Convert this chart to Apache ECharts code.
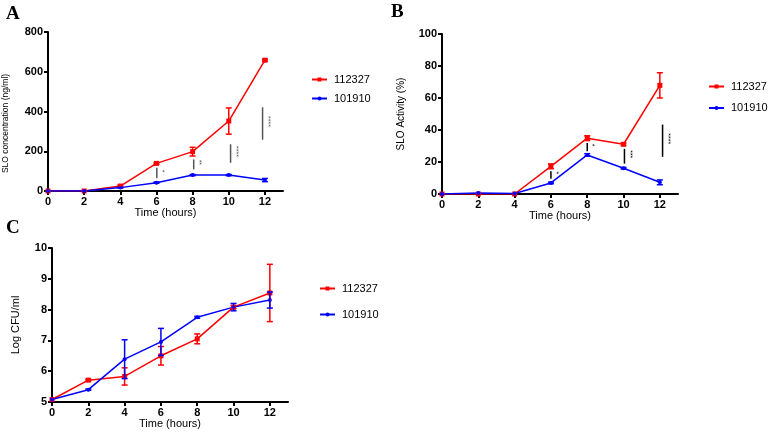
<!DOCTYPE html>
<html>
<head>
<meta charset="utf-8">
<script src="https://cdn.jsdelivr.net/npm/echarts@6/dist/echarts.min.js"></script>
<style>
    html, body {margin: 0; padding: 0; background: #fff;}
    #main {width: 768px; height: 435px;}
</style>
</head>
<body>
<div id="main"></div>
<script>
    // time points (hours)
    var hours = [0, 2, 4, 6, 8, 10, 12];
    var xTicks = [0, 2, 4, 6, 8, 10, 12];
    var strains = ['112327', '101910'];

    // A: SLO concentration (ng/ml)
    var concRed = [0, 0, 25, 139, 198, 352, 658];
    var concRedErr = [0, 0, 3, 4, 22, 66, 5];
    var concBlue = [0, 0, 17, 42, 80, 80, 55];
    var concBlueErr = [0, 0, 2, 3, 3, 3, 8];
    var concSigX = [6.02, 8.06, 10.1, 11.87];
    var concSigLow = [64, 109, 142, 258];
    var concSigHigh = [117, 159, 235, 421];
    var concSigText = ['*', '**', '****', '****'];

    // B: SLO Activity (%)
    var actRed = [0, 0, 0, 17.3, 34.9, 31.1, 67.9];
    var actRedErr = [0, 0, 0, 1.5, 1.5, 0.8, 7.9];
    var actBlue = [0, 0.6, 0.3, 6.9, 24.4, 16.1, 7.3];
    var actBlueErr = [0, 0, 0, 0.5, 0.8, 0.5, 1.5];
    var actSigX = [6.0, 8.0, 10.05, 12.15];
    var actSigLow = [9.6, 26.7, 19, 23.2];
    var actSigHigh = [14.2, 31.9, 28.2, 43.4];
    var actSigText = ['*', '*', '***', '****'];

    // C: Log CFU/ml
    var cfuRed = [5.08, 5.71, 5.83, 6.50, 7.05, 8.08, 8.54];
    var cfuRedErr = [0, 0.03, 0.28, 0.30, 0.16, 0.05, 0.93];
    var cfuBlue = [5.08, 5.40, 6.39, 6.95, 7.75, 8.08, 8.31];
    var cfuBlueErr = [0, 0.02, 0.63, 0.44, 0.03, 0.12, 0.26];

    var FONT = 'Arial, "Liberation Sans", sans-serif';
    var SERIF = '"Liberation Serif", "Times New Roman", serif';
    var RED = '#ff0000';
    var BLUE = '#0000ff';

    var chart = echarts.init(document.getElementById('main'));

    function pairs(xs, ys) {
        return xs.map(function (x, i) {
            return [x, ys[i]];
        });
    }

    function lineSeries(name, gi, ys, color, symbol, size) {
        return {
            name: name,
            type: 'line',
            xAxisIndex: gi,
            yAxisIndex: gi,
            data: pairs(hours, ys),
            symbol: symbol,
            symbolSize: size,
            lineStyle: {color: color, width: 1.5},
            itemStyle: {color: color},
            z: 4,
            animation: false
        };
    }

    function errorSeries(gi, ys, errs, color) {
        var data = [];
        hours.forEach(function (x, i) {
            if (errs[i] > 0) data.push([x, ys[i] - errs[i], ys[i] + errs[i]]);
        });
        return {
            name: 'err',
            type: 'custom',
            xAxisIndex: gi,
            yAxisIndex: gi,
            data: data,
            z: 5,
            animation: false,
            renderItem: function (params, api) {
                var top = api.coord([api.value(0), api.value(2)]);
                var bot = api.coord([api.value(0), api.value(1)]);
                var w = 3;
                var st = {stroke: color, lineWidth: 1.5};
                return {
                    type: 'group',
                    children: [
                        {type: 'line', shape: {x1: top[0], y1: top[1], x2: bot[0], y2: bot[1]}, style: st},
                        {type: 'line', shape: {x1: top[0] - w, y1: top[1], x2: top[0] + w, y2: top[1]}, style: st},
                        {type: 'line', shape: {x1: bot[0] - w, y1: bot[1], x2: bot[0] + w, y2: bot[1]}, style: st}
                    ]
                };
            }
        };
    }

    function sigSeries(gi, xs, lows, highs, texts, color) {
        return {
            name: 'sig',
            type: 'custom',
            xAxisIndex: gi,
            yAxisIndex: gi,
            data: xs.map(function (x, i) {
                return [x, lows[i], highs[i]];
            }),
            z: 3,
            animation: false,
            renderItem: function (params, api) {
                var top = api.coord([api.value(0), api.value(2)]);
                var bot = api.coord([api.value(0), api.value(1)]);
                return {
                    type: 'group',
                    children: [
                        {type: 'line', shape: {x1: top[0], y1: top[1], x2: bot[0], y2: bot[1]},
                            style: {stroke: color, lineWidth: 1.5}},
                        {type: 'text', x: top[0] + 5, y: (top[1] + bot[1]) / 2 - 2, rotation: -Math.PI / 2,
                            style: {text: texts[params.dataIndex], fontSize: 7, fill: color,
                                align: 'center', verticalAlign: 'middle', fontFamily: FONT}}
                    ]
                };
            }
        };
    }

    function xAxisFor(gi) {
        return {
            type: 'value',
            gridIndex: gi,
            min: 0,
            max: 13,
            interval: 2,
            name: 'Time (hours)',
            nameLocation: 'middle',
            nameGap: 16,
            nameTextStyle: {fontSize: 11, color: '#000', fontFamily: FONT},
            axisLine: {lineStyle: {color: '#000', width: 2}},
            axisTick: {length: 4, lineStyle: {color: '#000', width: 2}, customValues: xTicks},
            axisLabel: {customValues: xTicks, fontSize: 11, fontWeight: 'bold', color: '#000', margin: 5, fontFamily: FONT},
            splitLine: {show: false}
        };
    }

    function yAxisFor(gi, min, max, interval, name, gap, nameStyle) {
        return {
            type: 'value',
            gridIndex: gi,
            min: min,
            max: max,
            interval: interval,
            name: name,
            nameLocation: 'middle',
            nameGap: gap,
            nameTextStyle: nameStyle,
            axisLine: {show: true, lineStyle: {color: '#000', width: 2}},
            axisTick: {show: true, length: 4, lineStyle: {color: '#000', width: 2}},
            axisLabel: {fontSize: 11, fontWeight: 'bold', color: '#000', margin: 5, fontFamily: FONT},
            splitLine: {show: false}
        };
    }

    function legendAt(left, top, gap) {
        return {
            data: strains,
            orient: 'vertical',
            left: left,
            top: top,
            itemWidth: 15,
            itemHeight: 5,
            itemGap: gap,
            selectedMode: false,
            textStyle: {fontSize: 11, color: '#000', fontFamily: FONT, padding: [0, 0, 0, 2]}
        };
    }

    var option = {
        backgroundColor: '#fff',
        animation: false,
        grid: [
            {left: 48, top: 32, width: 235, height: 159},
            {left: 442, top: 34, width: 236, height: 160},
            {left: 52, top: 248, width: 236, height: 154}
        ],
        xAxis: [xAxisFor(0), xAxisFor(1), xAxisFor(2)],
        yAxis: [
            yAxisFor(0, 0, 800, 200, 'SLO concentration (ng/ml)', 38,
                {fontSize: 8.5, color: '#000', fontFamily: FONT, padding: [0, 24, 0, 0]}),
            yAxisFor(1, 0, 100, 20, 'SLO Activity (%)', 36,
                {fontSize: 10, color: '#000', fontFamily: FONT}),
            yAxisFor(2, 5, 10, 1, 'Log CFU/ml', 31,
                {fontSize: 11, color: '#000', fontFamily: FONT})
        ],
        legend: [legendAt(306, 69, 8), legendAt(703, 76, 10.5), legendAt(314, 278, 15)],
        graphic: [
            {type: 'text', left: 6, top: 5, style: {text: 'A', fontSize: 19, fontWeight: 'bold', fontFamily: SERIF, fill: '#000'}},
            {type: 'text', left: 391, top: 3, style: {text: 'B', fontSize: 19, fontWeight: 'bold', fontFamily: SERIF, fill: '#000'}},
            {type: 'text', left: 6, top: 219, style: {text: 'C', fontSize: 19, fontWeight: 'bold', fontFamily: SERIF, fill: '#000'}}
        ],
        series: [
            lineSeries(strains[0], 0, concRed, RED, 'rect', 5),
            lineSeries(strains[1], 0, concBlue, BLUE, 'circle', 4),
            errorSeries(0, concRed, concRedErr, RED),
            errorSeries(0, concBlue, concBlueErr, BLUE),
            sigSeries(0, concSigX, concSigLow, concSigHigh, concSigText, '#555'),

            lineSeries(strains[0], 1, actRed, RED, 'rect', 5),
            lineSeries(strains[1], 1, actBlue, BLUE, 'circle', 4),
            errorSeries(1, actRed, actRedErr, RED),
            errorSeries(1, actBlue, actBlueErr, BLUE),
            sigSeries(1, actSigX, actSigLow, actSigHigh, actSigText, '#000'),

            lineSeries(strains[0], 2, cfuRed, RED, 'rect', 5),
            lineSeries(strains[1], 2, cfuBlue, BLUE, 'circle', 4),
            errorSeries(2, cfuRed, cfuRedErr, RED),
            errorSeries(2, cfuBlue, cfuBlueErr, BLUE)
        ]
    };
    chart.setOption(option);
</script>
</body>
</html>
